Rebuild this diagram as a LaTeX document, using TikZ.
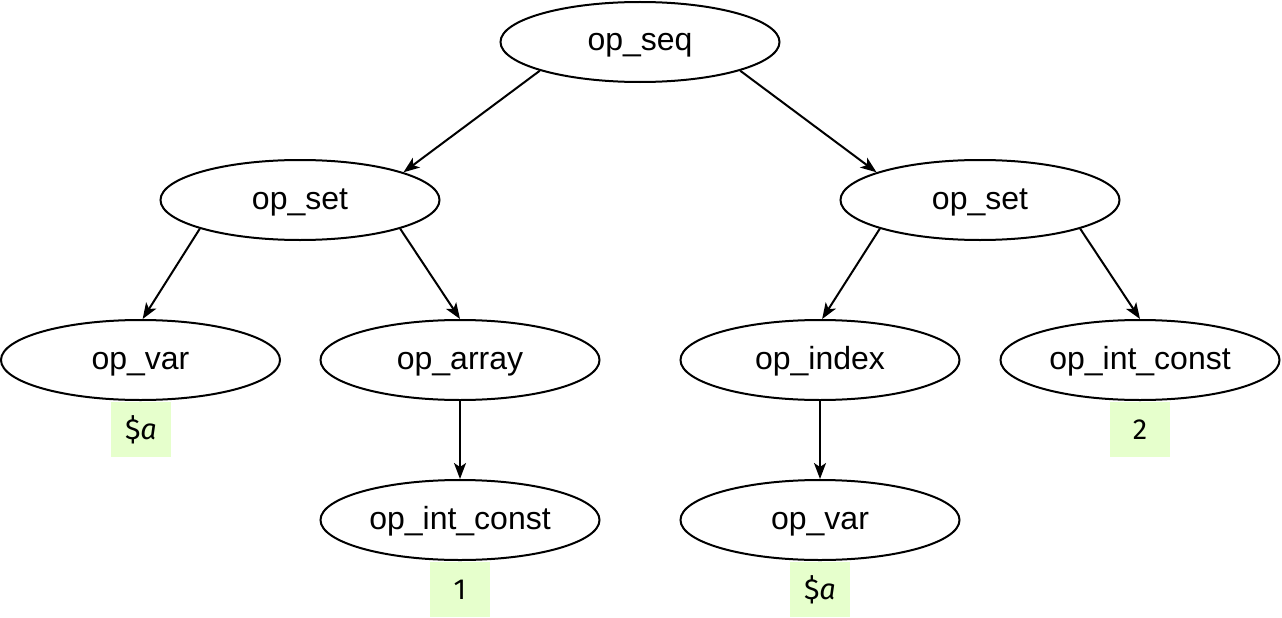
\documentclass[tikz,border=0pt]{standalone}
\usepackage{fontspec}
\setmainfont{Liberation Sans}
\newfontfamily\labfont{Fira Sans}
\usetikzlibrary{arrows.meta,shapes.geometric}
\begin{document}
\begin{tikzpicture}[x=1pt,y=-1pt,
  opnode/.style={ellipse,draw,line width=2pt,minimum width=279pt,minimum height=80pt,inner sep=0pt,text height=25pt,text depth=7pt,font=\fontsize{32}{36}\selectfont},
  val/.style={fill={rgb,255:red,230;green,255;blue,204},minimum width=60pt,minimum height=55pt,inner sep=0pt,font=\labfont\fontsize{29}{32}\selectfont},
  edge/.style={line width=2pt,-{Stealth[length=16pt,width=12pt,inset=4pt]}}]
\useasboundingbox (0,0) rectangle (1282,618);
\node[opnode] (seq) at (640,42) {op\_seq};
\node[opnode] (setL) at (300,200) {op\_set};
\node[opnode] (setR) at (980,200) {op\_set};
\node[opnode] (varL) at (140.5,360) {op\_var};
\node[opnode] (arr) at (460,360) {op\_array};
\node[opnode] (idx) at (820,360) {op\_index};
\node[opnode] (icR) at (1140,360) {op\_int\_const};
\node[opnode] (icB) at (460,520) {op\_int\_const};
\node[opnode] (varB) at (820,520) {op\_var};
\node[val] (vA) at (141,429.5) {\$\textit{a}};
\node[val] (v2) at (1140,429.5) {2};
\node[val] (v1) at (460,589.5) {1};
\node[val] (vB) at (820,589.5) {\$\textit{a}};
\draw[edge] (seq.196) -- (setL.15);
\draw[edge] (seq.344) -- (setR.165);
\draw[edge] (setL.196) -- (varL.87);
\draw[edge] (setL.344) -- (arr.north);
\draw[edge] (setR.196) -- (idx.87);
\draw[edge] (setR.344) -- (icR.north);
\draw[edge] (arr.south) -- (icB.north);
\draw[edge] (idx.south) -- (varB.north);
\end{tikzpicture}
\end{document}
